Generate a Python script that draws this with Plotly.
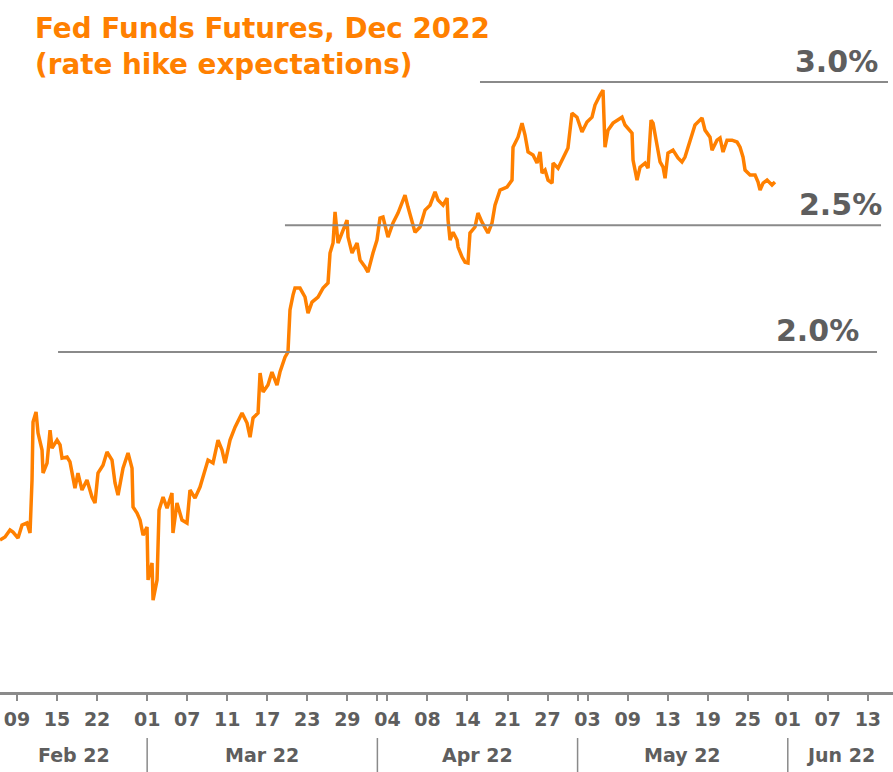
import pandas as pd
import plotly.graph_objects as go

# ---------------- data ----------------
# trading-day position (0 = 09 Feb 2022, weekends/holidays removed), implied Dec-2022 rate (%)
day_pos = [-1.70, -1.20, -0.70, -0.40, 0.10, 0.50, 1.00, 1.30, 1.50, 1.60, 1.90, 2.10, 2.50, 2.60,
           3.00, 3.30, 3.50, 4.00, 4.30, 4.50, 5.00, 5.29, 5.79, 6.09, 6.49, 6.99, 7.49, 7.79, 8.09,
           8.59, 8.99, 9.49, 9.79, 10.09, 10.59, 11.09, 11.49, 11.59, 11.99, 12.29, 12.59, 12.99,
           13.09, 13.49, 13.59, 13.99, 14.19, 14.59, 14.99, 15.48, 15.58, 15.98, 16.48, 16.98, 17.28,
           17.78, 18.28, 18.58, 19.08, 19.58, 20.08, 20.48, 20.78, 21.28, 21.78, 22.48, 22.98, 23.28,
           23.58, 24.08, 24.28, 24.58, 25.07, 25.47, 25.97, 26.27, 26.77, 27.07, 27.27, 27.57, 27.77,
           28.27, 28.77, 29.07, 29.47, 30.07, 30.57, 31.07, 31.27, 31.57, 31.77, 32.07, 32.47, 32.97,
           33.07, 33.47, 33.97, 34.27, 34.77, 35.06, 35.56, 35.96, 36.26, 36.56, 37.06, 37.56, 38.06,
           38.46, 38.76, 39.06, 39.46, 39.76, 40.26, 40.76, 41.26, 41.76, 42.06, 42.56, 42.96, 43.06,
           43.26, 43.56, 43.96, 44.06, 44.46, 44.76, 45.05, 45.25, 45.75, 46.05, 46.45, 46.75, 47.05,
           47.45, 47.75, 48.25, 48.95, 49.45, 49.55, 50.05, 50.45, 50.75, 51.05, 51.55, 51.95, 52.25,
           52.45, 52.75, 53.05, 53.45, 53.55, 54.05, 54.55, 55.04, 55.44, 55.94, 56.44, 56.94, 57.44,
           57.74, 58.24, 58.54, 58.74, 59.04, 59.54, 59.94, 60.44, 60.74, 61.04, 61.44, 61.54, 61.94,
           62.24, 62.74, 63.04, 63.34, 63.54, 63.94, 64.24, 64.54, 64.74, 65.03, 65.53, 66.03, 66.43,
           66.73, 67.03, 67.43, 67.73, 68.03, 68.43, 68.73, 69.23, 69.43, 69.93, 70.23, 70.53, 70.93,
           71.43, 71.93, 72.23, 72.53, 72.73, 73.23, 73.73, 74.03, 74.23, 74.53, 74.93, 75.42, 75.72]
rate = [1.304, 1.315, 1.341, 1.333, 1.311, 1.359, 1.367, 1.330, 1.526, 1.741, 1.778, 1.700, 1.637, 1.552,
        1.589, 1.711, 1.644, 1.674, 1.656, 1.607, 1.611, 1.593, 1.496, 1.552, 1.489, 1.526, 1.463, 1.441,
        1.552, 1.581, 1.630, 1.600, 1.515, 1.470, 1.570, 1.626, 1.570, 1.426, 1.404, 1.378, 1.322, 1.352,
        1.156, 1.219, 1.081, 1.156, 1.415, 1.463, 1.422, 1.478, 1.330, 1.441, 1.378, 1.367, 1.489,
        1.459, 1.500, 1.537, 1.600, 1.589, 1.674, 1.637, 1.589, 1.674, 1.722, 1.774, 1.737, 1.685,
        1.756, 1.774, 1.922, 1.852, 1.878, 1.926, 1.878, 1.926, 1.981, 2.000, 2.156, 2.211, 2.237,
        2.237, 2.204, 2.144, 2.185, 2.204, 2.237, 2.256, 2.367, 2.404, 2.519, 2.404, 2.444, 2.489,
        2.426, 2.367, 2.404, 2.341, 2.315, 2.296, 2.367, 2.415, 2.496, 2.500, 2.426, 2.478, 2.515,
        2.556, 2.581, 2.537, 2.489, 2.444, 2.463, 2.526, 2.544, 2.593, 2.563, 2.544, 2.570, 2.489,
        2.415, 2.444, 2.415, 2.389, 2.352, 2.333, 2.330, 2.441, 2.463, 2.515, 2.481, 2.463, 2.441,
        2.478, 2.544, 2.600, 2.611, 2.637, 2.759, 2.796, 2.848, 2.804, 2.741, 2.730, 2.700, 2.741,
        2.663, 2.674, 2.637, 2.626, 2.700, 2.681, 2.722, 2.756, 2.885, 2.870, 2.815, 2.852, 2.870,
        2.915, 2.952, 2.970, 2.759, 2.822, 2.848, 2.859, 2.870, 2.841, 2.830, 2.811, 2.711, 2.637,
        2.685, 2.700, 2.681, 2.859, 2.848, 2.774, 2.704, 2.685, 2.644, 2.737, 2.748, 2.719, 2.704,
        2.722, 2.759, 2.811, 2.841, 2.852, 2.867, 2.822, 2.796, 2.748, 2.785, 2.793, 2.741, 2.785,
        2.785, 2.778, 2.759, 2.722, 2.674, 2.656, 2.656, 2.630, 2.600, 2.626, 2.637, 2.619, 2.630]

tick_dates = ["2022-02-09", "2022-02-15", "2022-02-22", "2022-03-01", "2022-03-07", "2022-03-11",
              "2022-03-17", "2022-03-23", "2022-03-29", "2022-04-01", "2022-04-04", "2022-04-08",
              "2022-04-14", "2022-04-21", "2022-04-27", "2022-05-02", "2022-05-03", "2022-05-09",
              "2022-05-13", "2022-05-19", "2022-05-25", "2022-06-01", "2022-06-07", "2022-06-13"]
tick_labels = ["09", "15", "22", "01", "07", "11", "17", "23", "29", "", "04", "08",
               "14", "21", "27", "", "03", "09", "13", "19", "25", "01", "07", "13"]
month_starts = ["2022-03-01", "2022-04-01", "2022-05-02", "2022-06-01"]
month_labels = ["Feb 22", "Mar 22", "Apr 22", "May 22", "Jun 22"]
holidays = ["2022-02-21", "2022-04-15", "2022-05-30"]

guide_levels = [3.0, 2.47, 2.0]
guide_labels = ["3.0%", "2.5%", "2.0%"]
title_lines = ["Fed Funds Futures, Dec 2022", "(rate hike expectations)"]

# ---------------- calendar ----------------
bdays = pd.bdate_range("2022-02-07", "2022-06-30")
bdays = [d for d in bdays if d.strftime("%Y-%m-%d") not in holidays]
pos_of = {d.strftime("%Y-%m-%d"): i for i, d in enumerate(bdays)}
origin = pos_of["2022-02-09"]


def to_pos(s):
    return pos_of[s] - origin


x_min, x_max = -1.70, 87.51
y_min, y_max = 0.741, 3.304

tickvals = [to_pos(d) for d in tick_dates]
bounds = [x_min] + [to_pos(d) for d in month_starts] + [x_max]

ORANGE = "#FF8000"
GREY_TXT = "#5E5E5E"
GREY_LINE = "#8A8A8A"

fig = go.Figure()
fig.add_trace(go.Scatter(x=day_pos, y=rate, mode="lines",
                         line=dict(color=ORANGE, width=3.5), hoverinfo="skip", showlegend=False))

shapes = []
# guide lines (paper x extents)
guide_x = [(0.5375, 0.9944), (0.3191, 0.9866), (0.0650, 0.9821)]
for lvl, (x0, x1) in zip(guide_levels, guide_x):
    shapes.append(dict(type="line", xref="paper", yref="y", x0=x0, x1=x1, y0=lvl, y1=lvl,
                       line=dict(color=GREY_LINE, width=2)))
# month separators
for b in bounds[1:-1]:
    shapes.append(dict(type="line", xref="x", yref="paper", x0=b, x1=b, y0=-0.0665, y1=-0.125,
                       line=dict(color=GREY_LINE, width=1.5)))

annotations = []
label_pos = [(880 / 893, 0.9118), (884 / 893, 0.7038), (861 / 893, 0.5231)]
for txt, (ax, ay) in zip(guide_labels, label_pos):
    annotations.append(dict(text=txt, xref="paper", yref="paper", x=ax, y=ay, xanchor="right",
                            yanchor="middle", showarrow=False,
                            font=dict(family="DejaVu Sans", size=30, color=GREY_TXT, weight="bold")))
for i, m in enumerate(month_labels):
    cx = (bounds[i] + bounds[i + 1]) / 2
    annotations.append(dict(text=m, xref="x", yref="paper", x=cx, y=-0.091, xanchor="center",
                            yanchor="middle", showarrow=False,
                            font=dict(family="DejaVu Sans", size=19, color=GREY_TXT, weight="bold")))
annotations.append(dict(text="<br>".join(title_lines), xref="paper", yref="paper", x=33 / 893,
                        y=1 - 10 / 692, xanchor="left", yanchor="top", align="left", showarrow=False,
                        font=dict(family="DejaVu Sans", size=27.8, color=ORANGE, weight="bold")))

fig.update_layout(
    width=893, height=772,
    margin=dict(l=0, r=0, t=0, b=80),
    plot_bgcolor="white", paper_bgcolor="white",
    shapes=shapes, annotations=annotations,
    xaxis=dict(range=[x_min, x_max], tickmode="array", tickvals=tickvals, ticktext=tick_labels,
               ticks="outside", ticklen=6, tickwidth=1.5, tickcolor=GREY_LINE,
               showline=True, linecolor=GREY_LINE, linewidth=2.5,
               showgrid=False, zeroline=False, ticklabelstandoff=2,
               tickfont=dict(family="DejaVu Sans", size=19, color=GREY_TXT, weight="bold")),
    yaxis=dict(range=[y_min, y_max], visible=False, showgrid=False, zeroline=False),
)

fig.write_html("out.html", config={"displayModeBar": False},
               post_script="document.body.style.margin='0';document.body.style.overflow='hidden';")
